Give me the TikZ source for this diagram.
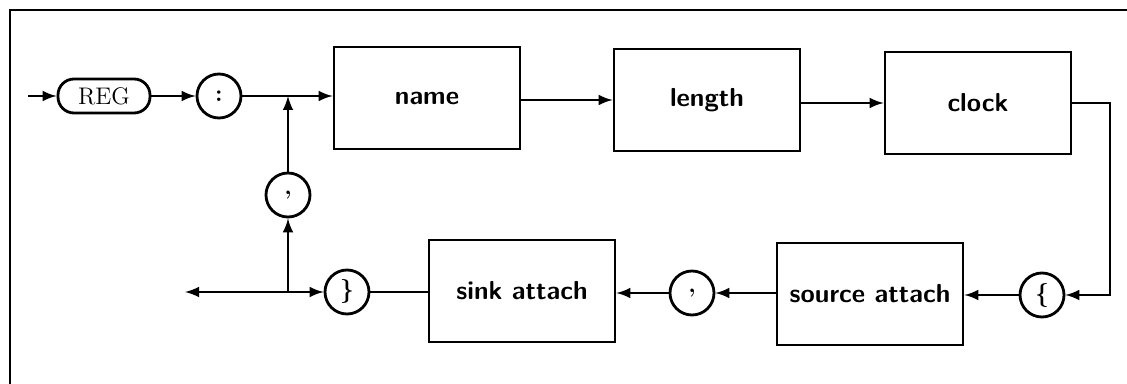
\documentclass[tikz,border=0pt]{standalone}
\usepackage{amsmath, amssymb}
\usepackage{tikz}

\begin{document}
\begin{tikzpicture}[x=0.5pt, y=-0.5pt, line width=1.4pt,
    box/.style={draw, minimum width=93pt, minimum height=51pt, font=\sffamily\bfseries\fontsize{13}{15}\selectfont},
    term/.style={draw, circle, minimum size=22pt, inner sep=0pt, font=\bfseries\large},
    key/.style={draw, rounded corners=8pt, minimum width=46pt, minimum height=17pt, font=\fontsize{12}{14}\selectfont}]
  \useasboundingbox (0,0) rectangle (1127,384);
  % frame
  \draw[line width=1pt] (10,384) -- (10,10) -- (1127,10);
  % top row
  \node[key] (reg) at (104,96) {REG};
  \node[term] (colon) at (219,96) {:};
  \node[box] (name) at (427,98) {name};
  \node[box] (length) at (707,100) {length};
  \node[box] (clock) at (978,103) {clock};
  % bottom row
  \node[term] (lbrace) at (1042,295) {\{};
  \node[box] (source) at (870,294) {source attach};
  \node[term] (comma2) at (692,293) {,};
  \node[box] (sink) at (522,291) {sink attach};
  \node[term] (rbrace) at (347,292) {\}};
  \node[term] (comma1) at (288,195) {,};
  \coordinate (start) at (28,96);
  \coordinate (stop) at (185,292);
  \coordinate (jtop) at (288,96);
  \coordinate (jbot) at (288,292);
  \coordinate (cr) at (1110,295);
  \draw[-latex] (start) -- (reg);
  \draw[-latex] (reg) -- (colon);
  \draw[-latex] (colon) -- (name.west |- colon);
  \draw[-latex] (name.east |- length) -- (length);
  \draw[-latex] (length.east |- clock) -- (clock);
  \draw[-latex] (clock.east) -| (cr) -- (lbrace);
  \draw[-latex] (lbrace) -- (source.east |- lbrace);
  \draw[-latex] (source.west |- comma2) -- (comma2);
  \draw[-latex] (comma2) -- (sink.east |- comma2);
  \draw (sink.west |- rbrace) -- (rbrace);
  \draw[-latex] (jbot) -- (rbrace);
  \draw[-latex] (jbot) -- (stop);
  \draw[-latex] (jbot) -- (comma1);
  \draw[-latex] (comma1) -- (jtop);
\end{tikzpicture}
\end{document}
